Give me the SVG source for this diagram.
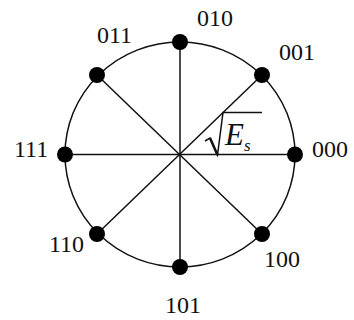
<svg xmlns="http://www.w3.org/2000/svg" width="354" height="320" viewBox="0 0 354 320">
<style>
.lbl{font-family:"Liberation Serif","Times New Roman",serif;font-size:24px;fill:#111}
.ln{stroke:#111;stroke-width:1.5;fill:none}
.dot{fill:#000}
</style>
<rect width="354" height="320" fill="#fff"/>
<g id="connectors">
<ellipse class="ln" cx="180" cy="154.5" rx="115" ry="112.5"/>
<line class="ln" x1="180" y1="42" x2="180" y2="267"/>
<line class="ln" x1="65" y1="154.5" x2="295" y2="154.5"/>
<line class="ln" x1="97" y1="75" x2="262" y2="234"/>
<line class="ln" x1="262" y1="75" x2="97" y2="234"/>
</g>
<g id="n000"><circle class="dot" cx="295" cy="154.5" r="8"/><text class="lbl" x="312" y="157">000</text></g>
<g id="n001"><circle class="dot" cx="262" cy="75" r="8"/><text class="lbl" x="279" y="60">001</text></g>
<g id="n010"><circle class="dot" cx="180" cy="42" r="8"/><text class="lbl" x="197" y="26">010</text></g>
<g id="n011"><circle class="dot" cx="97" cy="75" r="8"/><text class="lbl" x="97" y="43">011</text></g>
<g id="n111"><circle class="dot" cx="65" cy="154.5" r="8"/><text class="lbl" x="14" y="157">111</text></g>
<g id="n110"><circle class="dot" cx="97" cy="234" r="8"/><text class="lbl" x="49" y="252">110</text></g>
<g id="n101"><circle class="dot" cx="180" cy="267" r="8"/><text class="lbl" x="165" y="313">101</text></g>
<g id="n100"><circle class="dot" cx="262" cy="234" r="8"/><text class="lbl" x="264" y="267">100</text></g>
<g id="radius-label">
<path d="M205,141 L210,138 L217.5,155 L223,112.5 L262,112.5" stroke="#111" stroke-width="1.5" fill="none" stroke-linejoin="miter"/>
<path d="M210,138 L217.5,155" stroke="#111" stroke-width="2.5" fill="none"/>
<text x="225" y="145" style="font-family:'Liberation Serif',serif;font-size:31px;font-style:italic;fill:#111">E<tspan font-size="17" dy="6">s</tspan></text>
</g>
</svg>
